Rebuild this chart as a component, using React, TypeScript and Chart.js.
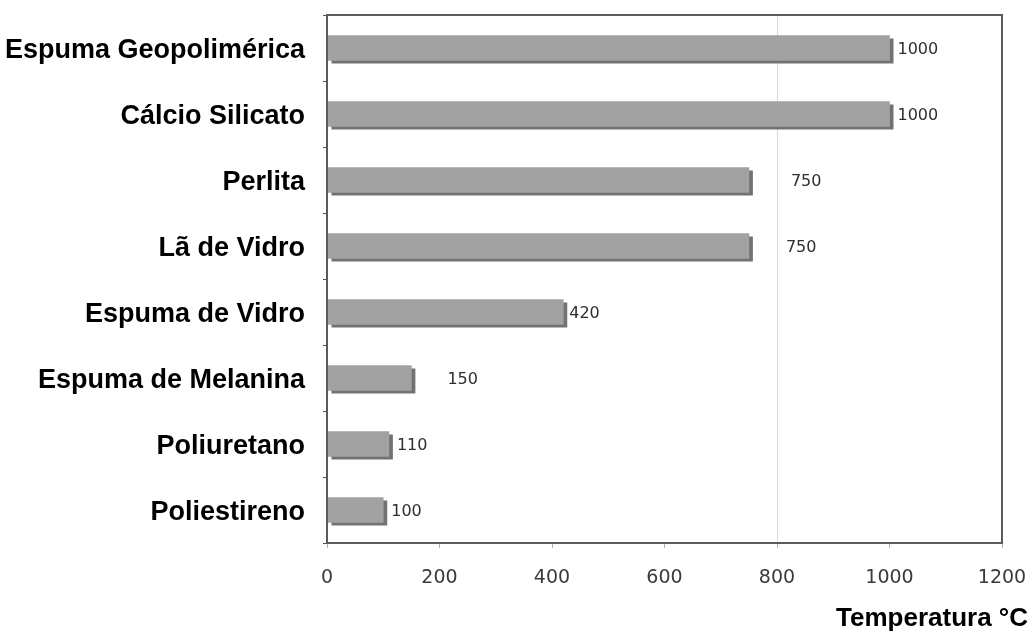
import React, { useEffect, useRef } from "react";
import { Chart, registerables } from "chart.js";

Chart.register(...registerables);

const categories = [
  "Espuma Geopolimérica",
  "Cálcio Silicato",
  "Perlita",
  "Lã de Vidro",
  "Espuma de Vidro",
  "Espuma de Melanina",
  "Poliuretano",
  "Poliestireno",
];
const temperatures = [1000, 1000, 750, 750, 420, 150, 110, 100];
const xMin = 0;
const xMax = 1200;
const xStep = 200;
const axisTitle = "Temperatura °C";
const highlightedGridValue = 800;

// gap (px) between the bar end and its value label, as in the reference
const labelGaps = [8, 8, 42, 37, 6, 36, 8, 8];

const shadowPlugin = {
  id: "barShadow",
  beforeDatasetsDraw(chart: any) {
    const { ctx } = chart;
    const meta = chart.getDatasetMeta(0);
    ctx.save();
    ctx.fillStyle = "#727272";
    meta.data.forEach((bar: any) => {
      const p = bar.getProps(["x", "y", "base", "height"], true);
      const h = p.height;
      ctx.fillRect(p.base + 4, p.y - h / 2 + 3, p.x - p.base, h);
    });
    ctx.restore();
  },
};

const valueLabelPlugin = {
  id: "valueLabels",
  afterDatasetsDraw(chart: any) {
    const { ctx } = chart;
    const meta = chart.getDatasetMeta(0);
    const data = chart.data.datasets[0].data;
    ctx.save();
    ctx.font = "16px 'DejaVu Sans', Verdana, sans-serif";
    ctx.fillStyle = "#2e2e2e";
    ctx.textAlign = "left";
    ctx.textBaseline = "middle";
    meta.data.forEach((bar: any, i: number) => {
      const p = bar.getProps(["x", "y"], true);
      ctx.fillText(String(data[i]), p.x + (labelGaps[i] ?? 6), p.y + 2);
    });
    ctx.restore();
  },
};

const framePlugin = {
  id: "plotFrame",
  afterDatasetsDraw(chart: any) {
    const { ctx, chartArea } = chart;
    ctx.save();
    ctx.strokeStyle = "#5a5a5a";
    ctx.lineWidth = 2;
    ctx.strokeRect(
      chartArea.left,
      chartArea.top,
      chartArea.right - chartArea.left,
      chartArea.bottom - chartArea.top
    );
    ctx.restore();
  },
  afterDraw(chart: any) {
    const { ctx } = chart;
    ctx.save();
    ctx.font = "bold 26px 'Liberation Sans', Arial, sans-serif";
    ctx.fillStyle = "#000000";
    ctx.textAlign = "right";
    ctx.textBaseline = "alphabetic";
    ctx.fillText(axisTitle, chart.width - 4, chart.height - 5);
    ctx.restore();
  },
};

export default function App() {
  const canvasRef = useRef<HTMLCanvasElement | null>(null);

  useEffect(() => {
    if (!canvasRef.current) return;
    const chart = new Chart(canvasRef.current, {
      type: "bar",
      data: {
        labels: categories,
        datasets: [
          {
            data: temperatures,
            backgroundColor: "#a2a2a2",
            borderWidth: 0,
            barThickness: 25,
          },
        ],
      },
      options: {
        indexAxis: "y",
        animation: false,
        responsive: false,
        maintainAspectRatio: false,
        layout: { padding: { top: 15, right: 30, left: 0, bottom: 0 } },
        plugins: {
          legend: { display: false },
          tooltip: { enabled: false },
          title: { display: false },
        },
        scales: {
          x: {
            min: xMin,
            max: xMax,
            ticks: {
              stepSize: xStep,
              color: "#3a3a3a",
              padding: 19,
              callback: (v: any) => String(v),
              font: { family: "'DejaVu Sans', Verdana, sans-serif", size: 19 },
            },
            grid: {
              color: (c: any) =>
                c.tick && c.tick.value === highlightedGridValue ? "#d8d8d8" : "rgba(0,0,0,0)",
              tickColor: "#b0b0b0",
              tickLength: 5,
              lineWidth: 1,
            },
            border: { display: false },
            afterFit(scale: any) {
              scale.height = 88;
              scale.paddingLeft = 0;
              scale.paddingRight = 0;
            },
          },
          y: {
            ticks: {
              color: "#000000",
              padding: 18,
              labelOffset: 3,
              font: {
                family: "'Liberation Sans', Arial, sans-serif",
                size: 27,
                weight: "bold",
              },
            },
            grid: {
              drawOnChartArea: false,
              tickLength: 4,
              tickColor: "#555555",
              offset: true,
            },
            border: { display: false },
            afterFit(scale: any) {
              scale.width = 327;
              scale.paddingTop = 0;
              scale.paddingBottom = 0;
            },
          },
        },
      },
      plugins: [shadowPlugin, valueLabelPlugin, framePlugin],
    } as any);
    return () => chart.destroy();
  }, []);

  return (
    <div
      style={{
        position: "fixed",
        left: 0,
        top: 0,
        width: 1032,
        height: 631,
        background: "#ffffff",
      }}
    >
      <canvas ref={canvasRef} width={1032} height={631} />
    </div>
  );
}
